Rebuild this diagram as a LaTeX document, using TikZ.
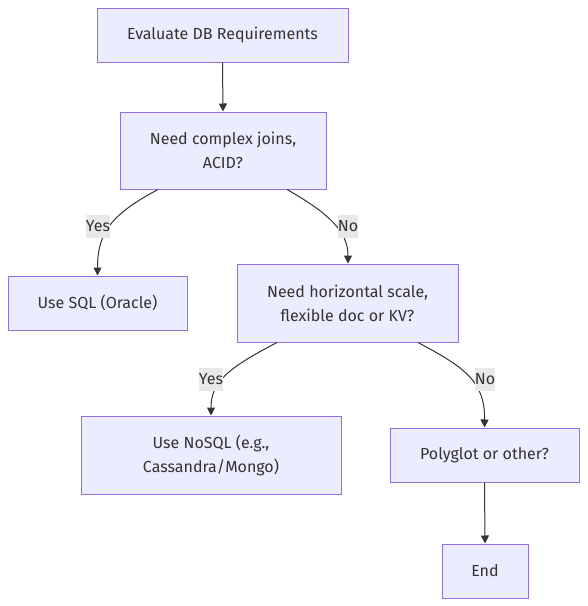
\documentclass[tikz,border=0pt]{standalone}
\usepackage{fontspec}
\setmainfont{Fira Sans}
\usetikzlibrary{arrows.meta,calc}
\definecolor{boxfill}{HTML}{ECECFF}
\definecolor{boxline}{HTML}{9370DB}
\definecolor{ink}{HTML}{333333}
\definecolor{lblbg}{HTML}{E8E8E8}
\tikzset{
  box/.style={draw=boxline, fill=boxfill, line width=1pt, text=ink, align=center,
    inner sep=0pt, font=\fontsize{16}{24}\selectfont},
  conn/.style={draw=ink, line width=1pt, -{Triangle[length=8pt,width=8pt]}},
  lbl/.style={fill=lblbg, text=ink, inner xsep=0pt, inner ysep=0pt, minimum height=23pt,
    font=\fontsize{16}{20}\selectfont}
}
\begin{document}
\begin{tikzpicture}[x=1pt,y=-1pt]
\useasboundingbox (0,0) rectangle (588,606);
\node[box, minimum width=251pt, minimum height=54pt] (n1) at (222.5,35) {Evaluate DB Requirements};
\node[box, minimum width=206pt, minimum height=77pt] (n2) at (223,150.5) {Need complex joins,\\ACID?};
\node[box, minimum width=179pt, minimum height=54pt] (n3) at (97.5,303) {Use SQL (Oracle)};
\node[box, minimum width=221pt, minimum height=78pt] (n4) at (347.5,303) {Need horizontal scale,\\flexible doc or KV?};
\node[box, minimum width=260pt, minimum height=78pt] (n5) at (211,455) {Use NoSQL (e.g.,\\Cassandra/Mongo)};
\node[box, minimum width=189pt, minimum height=54pt] (n6) at (484.5,455) {Polyglot or other?};
\node[box, minimum width=86pt, minimum height=54pt] (n7) at (485,571) {End};

\draw[conn] (n1.south) -- (n2.north);
\draw[conn] ($(n2.south)+(-65,0)$) .. controls (112,214) and (97.5,232) .. (n3.north);
\draw[conn] ($(n2.south)+(64,0)$) .. controls (330,214) and (348,232) .. ($(n4.north)+(0.5,0)$);
\draw[conn] ($(n4.south)+(-70.5,0)$) .. controls (228,368) and (211,382) .. (n5.north);
\draw[conn] ($(n4.south)+(70.5,0)$) .. controls (466,368) and (485,382) .. (n6.north);
\draw[conn] (n6.south) -- (n7.north);

\node[lbl] (l1) at (98,226.5) {Yes};
\node[lbl] (l2) at (348,226.5) {No};
\node[lbl] (l3) at (211,379) {Yes};
\node[lbl] (l4) at (485,379) {No};
\end{tikzpicture}
\end{document}
